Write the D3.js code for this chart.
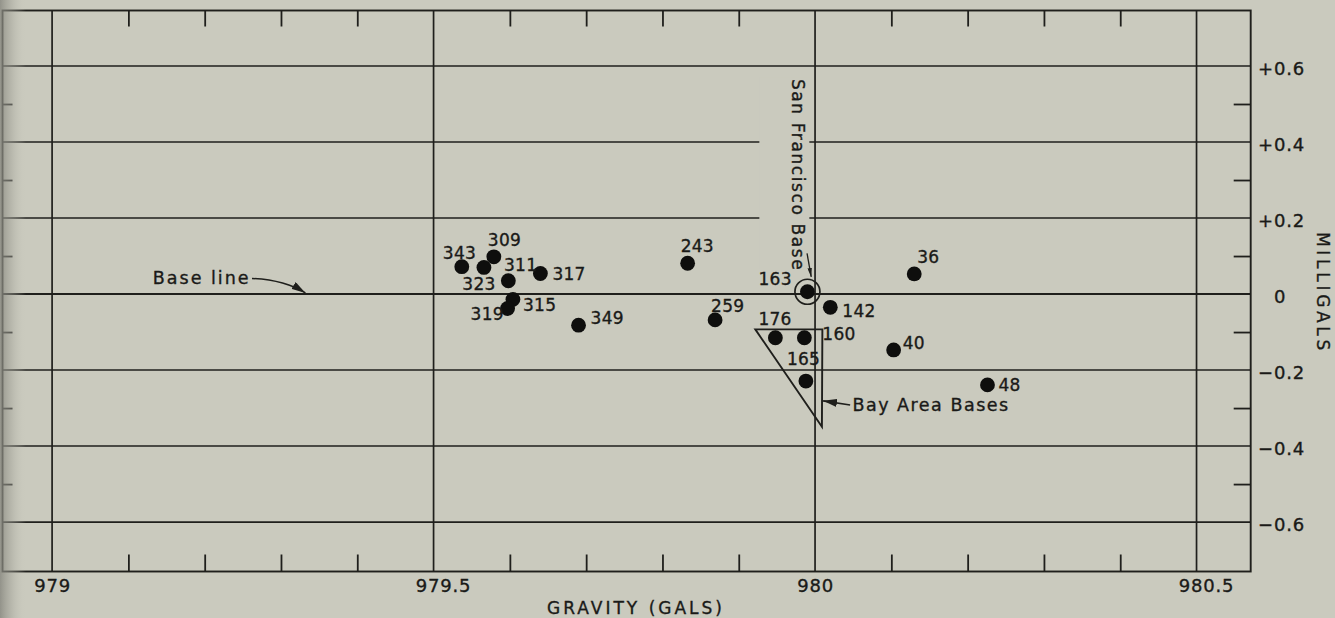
<!DOCTYPE html>
<html><head><meta charset="utf-8">
<script src="https://cdn.jsdelivr.net/npm/d3@7"></script>
<style>
html,body{margin:0;padding:0;background:#cacabe;}
svg{display:block;}
text{font-family:"DejaVu Sans",sans-serif;stroke:#1a1a18;stroke-width:0.35px;}
</style></head><body>
<svg id="chart" width="1335" height="618"></svg>
<script>
// ---------- data ----------
const stations = ["343","309","311","323","317","315","319","349","243","259","163","142","176","160","165","36","40","48"];
const gravity  = [979.537,979.579,979.566,979.598,979.640,979.604,979.597,979.690,979.833,979.869,979.990,980.020,979.948,979.986,979.988,980.130,980.103,980.226];
const anomaly  = [0.072,0.098,0.070,0.035,0.054,-0.014,-0.038,-0.082,0.081,-0.068,0.006,-0.035,-0.115,-0.115,-0.229,0.053,-0.147,-0.239];
const xMajorTicks = [979, 979.5, 980, 980.5];
const xMinorTicks = [979.1,979.2,979.3,979.4,979.6,979.7,979.8,979.9,980.1,980.2,980.3,980.4];
const yMajorTicks = [0.6,0.4,0.2,0,-0.2,-0.4,-0.6];
const yMinorTicks = [0.5,0.3,0.1,-0.1,-0.3,-0.5];
const baseStationIndex = 10;           // station 163, San Francisco Base
const bayAreaTriangle = [[979.9217,-0.093],[980.0096,-0.093],[980.009,-0.349]];
// label placement (layout, px offsets from each dot)
const labelPlacement = [[-19,-8],[-6,-11],[20,4],[-46,9],[12,6],[10,12],[-37,12],[12,-1],[-7,-11],[-4,-8],[-49,-7],[12,10],[-17,-13],[18,2],[-19,-16],[3,-11],[9,-1],[11,6]];

// ---------- setup ----------
const W=1335,H=618, ink="#1f1f1c", bg="#cacabe", txt="#1a1a18";
const svg=d3.select("#chart");
const x=d3.scaleLinear().domain([978.935,980.571]).range([2.5,1250.7]);
const y=d3.scaleLinear().domain([0.746,-0.730]).range([10.5,571.5]);
const [X0,X1]=x.range(), [Y0,Y1]=y.range();

const defs=svg.append("defs");
const grad=defs.append("linearGradient").attr("id","shade").attr("x1",0).attr("x2",1);
grad.append("stop").attr("offset",0).attr("stop-color","#85857d").attr("stop-opacity",0.8);
grad.append("stop").attr("offset",0.45).attr("stop-color","#a2a298").attr("stop-opacity",0.45);
grad.append("stop").attr("offset",1).attr("stop-color",bg).attr("stop-opacity",0);
function marker(id,len,wid){
  defs.append("marker").attr("id",id).attr("viewBox",`0 ${-wid/2} ${len} ${wid}`)
    .attr("refX",len).attr("refY",0).attr("markerWidth",len).attr("markerHeight",wid)
    .attr("markerUnits","userSpaceOnUse").attr("orient","auto")
    .append("path").attr("d",`M0,${-wid/2}L${len},0L0,${wid/2}Z`).attr("fill",ink);
}
marker("headA",14,8); marker("headB",9,4.5); marker("headC",14,8);

svg.append("rect").attr("width",W).attr("height",H).attr("fill",bg);

// ---------- grid ----------
const grid=svg.append("g").attr("stroke",ink);
grid.selectAll("line.h").data(yMajorTicks).join("line").attr("class","h")
  .attr("x1",X0).attr("x2",X1).attr("y1",d=>y(d)).attr("y2",d=>y(d))
  .attr("stroke-width",d=>d===0?2:1.6);
grid.selectAll("line.v").data(xMajorTicks).join("line").attr("class","v")
  .attr("x1",d=>x(d)).attr("x2",d=>x(d)).attr("y1",Y0).attr("y2",Y1).attr("stroke-width",1.7);

// knockout behind the vertical "San Francisco Base" lettering
svg.append("rect").attr("x",x(979.9270)).attr("width",x(979.9925)-x(979.9270))
  .attr("y",y(0.57)).attr("height",y(0.065)-y(0.57)).attr("fill",bg);

// frame
svg.append("rect").attr("x",X0).attr("y",Y0).attr("width",X1-X0).attr("height",Y1-Y0)
  .attr("fill","none").attr("stroke",ink).attr("stroke-width",1.9);

// ---------- minor ticks via d3 axes ----------
function ticks(axis,tx,ty){
  const g=svg.append("g").attr("transform",`translate(${tx},${ty})`).call(axis);
  g.select(".domain").remove();
  g.selectAll(".tick line").attr("stroke",ink).attr("stroke-width",1.8);
  return g;
}
ticks(d3.axisTop(x).tickValues(xMinorTicks).tickSize(-16).tickFormat(""),0,Y0);
ticks(d3.axisBottom(x).tickValues(xMinorTicks).tickSize(-17).tickFormat(""),0,Y1);
ticks(d3.axisRight(y).tickValues(yMinorTicks).tickSize(-17).tickFormat(""),X1,0);
ticks(d3.axisLeft(y).tickValues(yMinorTicks).tickSize(-10).tickFormat(""),X0,0);

// ---------- tick labels ----------
const gx=svg.append("g").attr("transform",`translate(0,${Y1})`)
  .call(d3.axisBottom(x).tickValues(xMajorTicks).tickSize(0).tickPadding(7.7).tickFormat(d3.format("")));
gx.select(".domain").remove();
gx.attr("font-size",18).attr("font-family","DejaVu Sans").attr("color",txt);
gx.selectAll(".tick text").attr("letter-spacing",0.8).attr("text-anchor","start")
  .attr("dx",function(d){const s=String(d);const i=s.indexOf(".");const n=i<0?s.length:i;return -this.getSubStringLength(0,n)/2;});

const fmtY=d=>d>0?"+"+d.toFixed(1):d<0?"\u2212"+Math.abs(d).toFixed(1):"0";
const gy=svg.append("g").attr("transform",`translate(${X1},0)`)
  .call(d3.axisRight(y).tickValues(yMajorTicks).tickSize(0).tickPadding(7.3).tickFormat(fmtY));
gy.select(".domain").remove();
gy.attr("font-size",18).attr("font-family","DejaVu Sans").attr("color",txt);
gy.selectAll(".tick text").attr("letter-spacing",0.8).attr("dy","0.45em");
const signW=(()=>{const t=svg.append("text").attr("font-size",18).attr("letter-spacing",0.8).text("+");const w=t.node().getComputedTextLength();t.remove();return w;})();
gy.selectAll(".tick text").filter(d=>d===0).attr("dx",signW);

// axis titles
svg.append("text").attr("x",636).attr("y",614).attr("text-anchor","middle")
  .attr("font-size",17).attr("letter-spacing",3).attr("fill",txt).text("GRAVITY (GALS)");
svg.append("text").attr("transform",`translate(1323,293) rotate(90)`).attr("text-anchor","middle")
  .attr("dominant-baseline","central").attr("font-size",17).attr("letter-spacing",3.7).attr("fill",txt).text("MILLIGALS");

// ---------- annotations ----------
// Base line
svg.append("text").attr("x",x(979.132)).attr("y",y(0.026)).attr("font-size",17.5).attr("letter-spacing",2)
  .attr("fill",txt).text("Base line");
svg.append("path").attr("d",`M${x(979.262)},${y(0.041)}Q${x(979.305)},${y(0.037)} ${x(979.332)},${y(0.003)}`)
  .attr("fill","none").attr("stroke",ink).attr("stroke-width",1.6).attr("marker-end","url(#headA)");

// San Francisco Base
svg.append("text").attr("transform",`translate(${x(979.978)},${y(0.313)}) rotate(90)`)
  .attr("text-anchor","middle").attr("dominant-baseline","central").attr("font-size",17)
  .attr("letter-spacing",1.6).attr("fill",txt).text("San Francisco Base");
svg.append("line").attr("x1",x(979.9895)).attr("y1",y(0.107)).attr("x2",x(979.995)).attr("y2",y(0.045))
  .attr("stroke",ink).attr("stroke-width",1.3).attr("marker-end","url(#headB)");
svg.append("circle").attr("cx",x(gravity[baseStationIndex])).attr("cy",y(anomaly[baseStationIndex]))
  .attr("r",12.5).attr("fill","none").attr("stroke",ink).attr("stroke-width",1.7);

// Bay Area Bases triangle
svg.append("path").attr("d",d3.line().x(d=>x(d[0])).y(d=>y(d[1]))(bayAreaTriangle)+"Z")
  .attr("fill","none").attr("stroke",ink).attr("stroke-width",1.9).attr("stroke-linejoin","miter");
svg.append("line").attr("x1",x(980.046)).attr("y1",y(-0.292)).attr("x2",x(980.0105)).attr("y2",y(-0.281))
  .attr("stroke",ink).attr("stroke-width",1.7).attr("marker-end","url(#headC)");
svg.append("text").attr("x",x(980.049)).attr("y",y(-0.309)).attr("font-size",17.5).attr("letter-spacing",1.5)
  .attr("fill",txt).text("Bay Area Bases");

// ---------- points ----------
const pts=stations.map((s,i)=>({id:s,g:gravity[i],a:anomaly[i],o:labelPlacement[i]}));
svg.append("g").selectAll("circle").data(pts).join("circle")
  .attr("cx",d=>x(d.g)).attr("cy",d=>y(d.a)).attr("r",7.4).attr("fill","#0e0e0d");
svg.append("g").selectAll("text").data(pts).join("text")
  .attr("x",d=>x(d.g)+d.o[0]).attr("y",d=>y(d.a)+d.o[1])
  .attr("font-size",17).attr("letter-spacing",0.3).attr("fill",txt).text(d=>d.id);

// page-edge shading at the far left
svg.append("rect").attr("x",0).attr("y",0).attr("width",26).attr("height",H).attr("fill","url(#shade)");
</script>
</body></html>
